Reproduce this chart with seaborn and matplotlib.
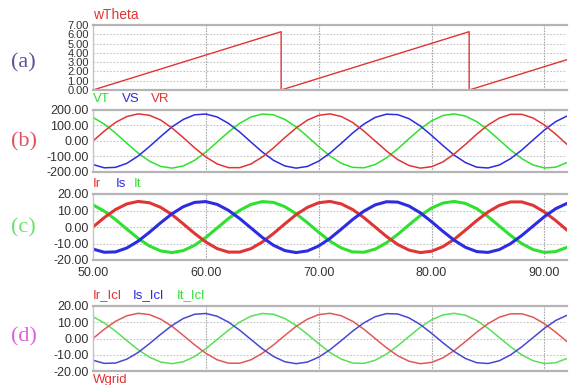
import numpy as np
import matplotlib
matplotlib.use("Agg")
import matplotlib.pyplot as plt
import seaborn as sns

# ---------------- data ----------------
# time axis in ms, one sample per ms
t = np.arange(50, 93)

# phase angle sawtooth (a)
theta_t = [50, 66.67, 66.67, 83.33, 83.33, 92]
theta_v = [0.0, 6.28, 0.0, 6.28, 0.0, 3.27]

# grid voltages (b)
vr = [0, 64, 120, 158, 175, 166, 135, 84, 22, -44, -103, -148, -172, -172, -148,
      -103, -44, 22, 84, 135, 166, 175, 158, 120, 64, 0, -64, -120, -158, -175,
      -166, -135, -84, -22, 44, 103, 148, 172, 172, 148, 103, 44, -22]
vs = [-152, -173, -170, -144, -97, -36, 29, 91, 139, 169, 174, 155, 114, 58, -7,
      -71, -125, -161, -175, -164, -130, -78, -15, 51, 109, 152, 173, 170, 144, 97,
      36, -29, -91, -139, -169, -174, -155, -114, -58, 7, 71, 125, 161]
vt = [152, 109, 51, -15, -78, -130, -164, -175, -161, -125, -71, -7, 58, 114, 155,
      174, 169, 139, 91, 29, -36, -97, -144, -170, -173, -152, -109, -51, 15, 78,
      130, 164, 175, 161, 125, 71, 7, -58, -114, -155, -174, -169, -139]

# inverter currents (c)
ir = [0, 5.7, 10.6, 14.0, 15.5, 14.7, 11.9, 7.5, 1.9, -3.9, -9.1, -13.1, -15.2, -15.2,
      -13.1, -9.1, -3.9, 1.9, 7.5, 11.9, 14.7, 15.5, 14.0, 10.6, 5.7, 0, -5.7, -10.6,
      -14.0, -15.5, -14.7, -11.9, -7.5, -1.9, 3.9, 9.1, 13.1, 15.2, 15.2, 13.1, 9.1,
      3.9, -1.9]
is_ = [-13.4, -15.3, -15.1, -12.7, -8.6, -3.2, 2.6, 8.0, 12.3, 14.9, 15.4, 13.7, 10.1,
       5.1, -0.6, -6.3, -11.1, -14.3, -15.5, -14.5, -11.5, -6.9, -1.3, 4.5, 9.6, 13.4,
       15.3, 15.1, 12.7, 8.6, 3.2, -2.6, -8.0, -12.3, -14.9, -15.4, -13.7, -10.1, -5.1,
       0.6, 6.3, 11.1, 14.3]
it = [13.4, 9.6, 4.5, -1.3, -6.9, -11.5, -14.5, -15.5, -14.3, -11.1, -6.3, -0.6, 5.1,
      10.1, 13.7, 15.4, 14.9, 12.3, 8.0, 2.6, -3.2, -8.6, -12.7, -15.1, -15.3, -13.4,
      -9.6, -4.5, 1.3, 6.9, 11.5, 14.5, 15.5, 14.3, 11.1, 6.3, 0.6, -5.1, -10.1, -13.7,
      -15.4, -14.9, -12.3]

# grid-side currents after the filter (d)
ir_lcl = ir
is_lcl = is_
it_lcl = it

x_ticks = [50, 60, 70, 80, 90]

# ---------------- figure ----------------
sns.set_style("white")
plt.rcParams["font.family"] = ["Liberation Sans", "DejaVu Sans"]

W, H = 571, 385
fig = plt.figure(figsize=(W / 100, H / 100), dpi=100)

RED, BLUE, GREEN = "#e03535", "#2c2ce0", "#2fe02f"
RED2, BLUE2, GREEN2 = "#e05858", "#4848d4", "#58e058"


def add_ax(l, top, r, b):
    return fig.add_axes([l / W, 1 - b / H, (r - l) / W, (b - top) / H])


def style(ax, ylim, step, xlabels=False, ysize=9):
    ax.set_xlim(50, 92)
    ax.set_ylim(*ylim)
    ax.set_yticks(np.arange(ylim[0], ylim[1] + step / 2, step))
    ax.yaxis.set_major_formatter(matplotlib.ticker.FormatStrFormatter("%.2f"))
    ax.set_xticks(x_ticks)
    if xlabels:
        ax.xaxis.set_major_formatter(matplotlib.ticker.FormatStrFormatter("%.2f"))
    else:
        ax.set_xticklabels([])
    ax.tick_params(length=0, pad=3, labelsize=ysize, colors="#333333")
    for yy in ax.get_yticks()[1:-1]:
        ax.axhline(yy, color="#c4c4c4", lw=0.8, ls=(0, (1.5, 1.5)), zorder=0)
    for xx in x_ticks[1:]:
        ax.axvline(xx, color="#a8a8a8", lw=0.8, ls=(0, (1.5, 1)), zorder=0)
    for s in ["top", "bottom"]:
        ax.spines[s].set_color("#b4b4b4")
        ax.spines[s].set_linewidth(1.6)
    ax.spines["left"].set_color("#c4c4c4")
    ax.spines["left"].set_linewidth(1.0)
    ax.spines["right"].set_visible(False)
    ax.set_xlabel("")
    ax.set_ylabel("")


def label(x, y, s, color, **kw):
    fig.text(x / W, 1 - y / H, s, color=color, va="center", ha="left",
             fontsize=kw.pop("fontsize", 9.5), **kw)


# (a) wTheta
ax_a = add_ax(93, 25, 567, 90)
sns.lineplot(x=theta_t, y=theta_v, ax=ax_a, color=RED, lw=1.0, sort=False, estimator=None)
style(ax_a, (0, 7), 1, ysize=8)

# (b) voltages
ax_b = add_ax(93, 110, 567, 172)
sns.lineplot(x=t, y=vt, ax=ax_b, color=GREEN, lw=1.1)
sns.lineplot(x=t, y=vs, ax=ax_b, color=BLUE, lw=1.1)
sns.lineplot(x=t, y=vr, ax=ax_b, color=RED, lw=1.1)
style(ax_b, (-200, 200), 100)

# (c) currents, thick
ax_c = add_ax(93, 194, 567, 260)
sns.lineplot(x=t, y=it, ax=ax_c, color=GREEN, lw=2.2)
sns.lineplot(x=t, y=ir, ax=ax_c, color=RED, lw=2.2)
sns.lineplot(x=t, y=is_, ax=ax_c, color=BLUE, lw=2.2)
style(ax_c, (-20, 20), 10, xlabels=True)
ax_c.tick_params(axis="x", pad=5)

# (d) filtered currents
ax_d = add_ax(93, 306, 567, 371)
sns.lineplot(x=t, y=it_lcl, ax=ax_d, color=GREEN2, lw=1.1)
sns.lineplot(x=t, y=ir_lcl, ax=ax_d, color=RED2, lw=1.1)
sns.lineplot(x=t, y=is_lcl, ax=ax_d, color=BLUE2, lw=1.1)
style(ax_d, (-20, 20), 10)

# signal names
label(93, 15, "wTheta", RED, fontsize=10)
label(93, 99, "VT", GREEN)
label(122, 99, "VS", BLUE)
label(151, 99, "VR", RED)
label(93, 184, "Ir", RED)
label(116, 184, "Is", BLUE)
label(134, 184, "It", GREEN)
label(93, 295, "Ir_Icl", RED)
label(133, 295, "Is_Icl", BLUE)
label(177, 295, "It_Icl", GREEN)
label(93, 380, "Wgrid", RED)

# panel tags
serif = ["Liberation Serif", "DejaVu Serif"]
label(11, 63, "(a)", "#56569a", fontsize=16, family=serif)
label(11, 142, "(b)", "#e05262", fontsize=16, family=serif)
label(11, 228, "(c)", "#6ce06c", fontsize=16, family=serif)
label(11, 337, "(d)", "#e05ee0", fontsize=16, family=serif)

fig.savefig("out.png", dpi=100)
